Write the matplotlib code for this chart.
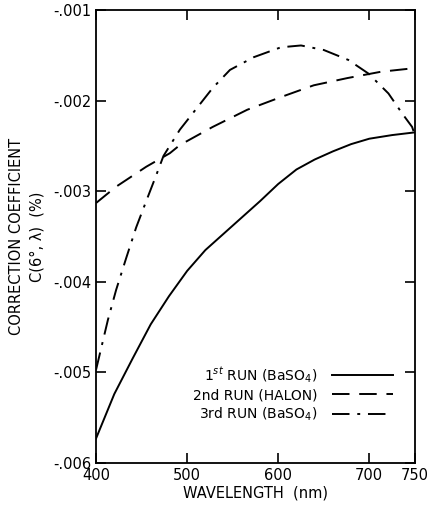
import matplotlib
matplotlib.use("Agg")
import matplotlib.pyplot as plt

# wavelength grids (nm) and correction coefficients
wl_first = [400, 420, 440, 460, 480, 500, 520, 540, 560, 580, 600, 620, 640, 660, 680, 700, 725, 750]
first_run = [-0.00573, -0.00524, -0.00485, -0.00447, -0.00416, -0.00388, -0.00365, -0.00347,
             -0.00329, -0.00311, -0.00292, -0.00276, -0.00265, -0.00256, -0.00248, -0.00242,
             -0.00238, -0.00235]

wl_second = [400, 422, 455, 481, 492, 528, 566, 603, 639, 676, 713, 750]
second_run = [-0.00313, -0.00295, -0.00273, -0.00258, -0.00249, -0.00229, -0.00210, -0.00196,
              -0.00183, -0.00175, -0.00168, -0.00164]

wl_third = [400, 413, 422, 433, 444, 455, 465, 474, 492, 510, 528, 547, 573, 603, 625, 650,
            677, 699, 721, 736, 747, 750]
third_run = [-0.00497, -0.00442, -0.00409, -0.00374, -0.00340, -0.00311, -0.00285, -0.00261,
             -0.00232, -0.00209, -0.00186, -0.00166, -0.00152, -0.00141, -0.00139, -0.00144,
             -0.00155, -0.00170, -0.00192, -0.00214, -0.00229, -0.00238]

labels = ["1$^{st}$ RUN (BaSO$_4$)", "2nd RUN (HALON)", "3rd RUN (BaSO$_4$)"]
x_ticks = [400, 500, 600, 700, 750]
y_ticks = [-0.006, -0.005, -0.004, -0.003, -0.002, -0.001]
y_tick_labels = ["-.006", "-.005", "-.004", "-.003", "-.002", "-.001"]

fig = plt.figure(figsize=(4.29, 5.08), dpi=100)
ax = fig.add_axes([0.224, 0.089, 0.743, 0.891])

ax.plot(wl_first, first_run, color="black", lw=1.4, label=labels[0])
ax.plot(wl_second, second_run, color="black", lw=1.4, dashes=(9, 5), label=labels[1])
ax.plot(wl_third, third_run, color="black", lw=1.4, dashes=(9, 4, 1.5, 4), label=labels[2])

ax.set_xlim(400, 750)
ax.set_ylim(-0.006, -0.001)
ax.set_xticks(x_ticks)
ax.set_xticklabels([str(v) for v in x_ticks])
ax.set_yticks(y_ticks)
ax.set_yticklabels(y_tick_labels)
ax.tick_params(direction="in", length=7, width=1.2, top=True, right=True, labelsize=10.5)
for spine in ax.spines.values():
    spine.set_linewidth(1.3)

ax.set_xlabel("WAVELENGTH  (nm)", fontsize=10.5, labelpad=2)
ax.set_ylabel("CORRECTION COEFFICIENT\nC(6°, λ)  (%)", fontsize=10.5, labelpad=6, linespacing=1.5)

ax.legend(loc="lower right", bbox_to_anchor=(0.97, 0.06), frameon=False, markerfirst=False,
          handlelength=4.4, fontsize=10, labelspacing=0.25, handletextpad=1.0)

fig.savefig("out.png", dpi=100)
